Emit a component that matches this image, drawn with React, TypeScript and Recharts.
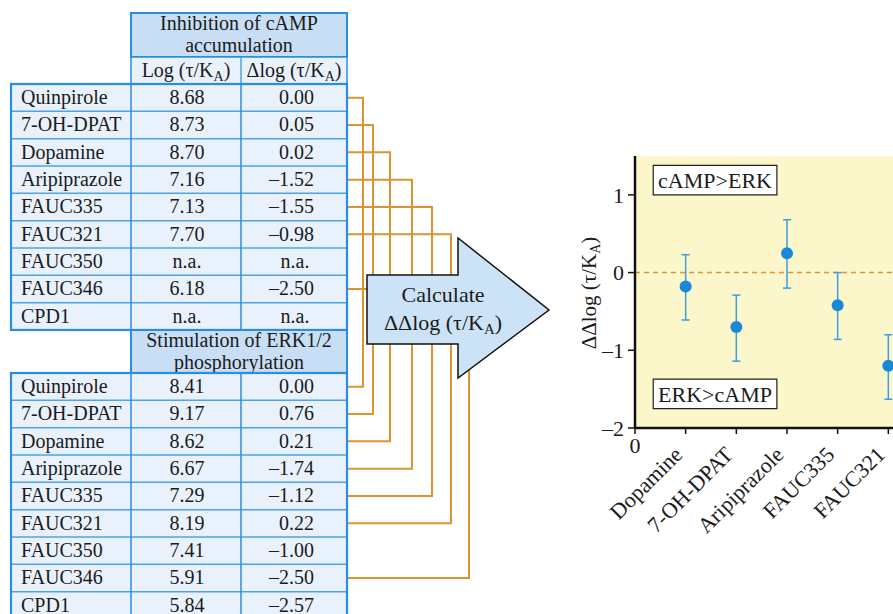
import React from "react";
import {
  ComposedChart,
  Scatter,
  ErrorBar,
  XAxis,
  YAxis,
  CartesianGrid,
  ReferenceLine,
  ReferenceArea,
} from "recharts";

const FONT = '"Liberation Serif", "DejaVu Serif", serif';

// table values, n.a. = null
const compounds = ["Quinpirole", "7-OH-DPAT", "Dopamine", "Aripiprazole", "FAUC335", "FAUC321", "FAUC350", "FAUC346", "CPD1"];
const campLog = [8.68, 8.73, 8.7, 7.16, 7.13, 7.7, null, 6.18, null];
const campDelta = [0.0, 0.05, 0.02, -1.52, -1.55, -0.98, null, -2.5, null];
const erkLog = [8.41, 9.17, 8.62, 6.67, 7.29, 8.19, 7.41, 5.91, 5.84];
const erkDelta = [0.0, 0.76, 0.21, -1.74, -1.12, 0.22, -1.0, -2.5, -2.57];

// bias plot (only the visible part of the panel)
const chartNames = ["Dopamine", "7-OH-DPAT", "Aripiprazole", "FAUC335", "FAUC321"];
const ddlog = [-0.18, -0.7, 0.25, -0.42, -1.2];
const errLow = [0.43, 0.44, 0.45, 0.44, 0.43];
const errHigh = [0.41, 0.41, 0.43, 0.42, 0.4];
const yTicks = [-2, -1, 0, 1];
const xTicks = [0, 1, 2, 3, 4, 5];

// layout
const X0 = 11, X1 = 131, X2 = 241, X3 = 347, RH = 27.33;
const BLUE = "#2a8ee0", LINE = "#4ea3ea", HDR = "#c8def5", CELL = "#e8f1fc";
const ORANGE = "#dc9331";
const LINK_X = [363, 373, 390, 412, 432, 451, 469];

const fmt = (v: number | null) => (v == null ? "n.a." : v.toFixed(2).replace("-", "–"));

function KA({ pre }: { pre: string }) {
  return (
    <>
      <tspan>{pre}(τ/K</tspan>
      <tspan fontSize={14} dy={4}>A</tspan>
      <tspan dy={-4}>)</tspan>
    </>
  );
}

function Table({ hTop, hBot, rowsTop, title, logs, deltas, sub }: any) {
  const rowsBot = rowsTop + compounds.length * RH;
  const cx = (X1 + X3) / 2;
  return (
    <g fontFamily={FONT} fontSize={20} fill="#1b1b1b">
      <rect x={X1} y={hTop} width={X3 - X1} height={hBot - hTop} fill={HDR} stroke={BLUE} strokeWidth={2} />
      {title.map((t: string, i: number) => (
        <text key={t} x={cx} y={hTop + 17 + 21.5 * i} textAnchor="middle">{t}</text>
      ))}
      {sub && (
        <>
          <rect x={X1} y={hBot} width={X3 - X1} height={rowsTop - hBot} fill={CELL} stroke={BLUE} strokeWidth={1.5} />
          <line x1={X2} y1={hBot} x2={X2} y2={rowsTop} stroke={LINE} strokeWidth={1.5} />
          <text x={186} y={hBot + 20} textAnchor="middle"><KA pre="Log " /></text>
          <text x={294} y={hBot + 20} textAnchor="middle"><KA pre="Δlog " /></text>
        </>
      )}
      <rect x={X0} y={rowsTop} width={X3 - X0} height={rowsBot - rowsTop} fill={CELL} />
      {compounds.slice(1).map((_, k) => (
        <line key={k} x1={X0} x2={X3} y1={rowsTop + (k + 1) * RH} y2={rowsTop + (k + 1) * RH} stroke={LINE} strokeWidth={1.5} />
      ))}
      <line x1={X1} x2={X1} y1={rowsTop} y2={rowsBot} stroke={BLUE} strokeWidth={1.5} />
      <line x1={X2} x2={X2} y1={rowsTop} y2={rowsBot} stroke={BLUE} strokeWidth={1.5} />
      <rect x={X0} y={rowsTop} width={X3 - X0} height={rowsBot - rowsTop} fill="none" stroke={BLUE} strokeWidth={2.2} />
      {compounds.map((c, i) => {
        const by = rowsTop + i * RH + 20;
        const d = deltas[i];
        return (
          <g key={c}>
            <text x={21} y={by}>{c}</text>
            <text x={187} y={by} textAnchor="middle">{fmt(logs[i])}</text>
            {d == null ? (
              <text x={295} y={by} textAnchor="middle">n.a.</text>
            ) : (
              <text x={314} y={by} textAnchor="end">{fmt(d)}</text>
            )}
          </g>
        );
      })}
    </g>
  );
}

function Connectors() {
  const linked = compounds.map((_, i) => i).filter((i) => campDelta[i] != null && erkDelta[i] != null);
  return (
    <g fill="none" stroke={ORANGE} strokeWidth={2}>
      {linked.map((i, k) => {
        const y1 = 84 + (i + 0.5) * RH;
        const y2 = 373 + (i + 0.5) * RH;
        return <path key={i} d={`M${X3} ${y1} H${LINK_X[k]} V${y2} H${X3}`} />;
      })}
    </g>
  );
}

function Arrow() {
  return (
    <g fontFamily={FONT} fontSize={22} fill="#1b1b1b">
      <polygon
        points="367,275 458,275 458,238 549,310 458,378 458,344 367,344"
        fill="#cce2f6"
        stroke="#111"
        strokeWidth={1.5}
      />
      <text x={443} y={302} textAnchor="middle">Calculate</text>
      <text x={443} y={330} textAnchor="middle">
        <tspan>ΔΔlog (τ/K</tspan>
        <tspan fontSize={15} dy={4}>A</tspan>
        <tspan dy={-4}>)</tspan>
      </text>
    </g>
  );
}

function XTick({ x, y, payload }: any) {
  const v = payload.value;
  if (v === 0) {
    return (
      <text x={x} y={y + 17} textAnchor="middle" fontFamily={FONT} fontSize={22} fill="#1b1b1b">0</text>
    );
  }
  return (
    <g transform={`translate(${x - 2},${y + 20}) rotate(-45)`}>
      <text x={0} y={0} textAnchor="end" fontFamily={FONT} fontSize={22} fill="#1b1b1b">
        {chartNames[v - 1]}
      </text>
    </g>
  );
}

const points = chartNames.map((n, i) => ({ x: i + 1, y: ddlog[i], err: [errLow[i], errHigh[i]], name: n }));

function BiasChart() {
  return (
    <ComposedChart width={560} height={474} margin={{ top: 16, right: 9, bottom: 0, left: 0 }}>
      <CartesianGrid horizontal={false} vertical={false} fill="#fcf6cb" />
      <XAxis
        type="number"
        dataKey="x"
        domain={[0, 9]}
        ticks={xTicks}
        height={186}
        axisLine={{ stroke: "#111", strokeWidth: 2.5 }}
        tickLine={{ stroke: "#111", strokeWidth: 1.5 }}
        tickSize={6}
        tick={<XTick />}
        interval={0}
      />
      <YAxis
        type="number"
        domain={[-2, 1.5]}
        ticks={yTicks}
        width={95}
        allowDataOverflow
        axisLine={{ stroke: "#111", strokeWidth: 2.5 }}
        tickLine={{ stroke: "#111", strokeWidth: 1.5 }}
        tickSize={7}
        tickMargin={4}
        tickFormatter={(v: number) => (v < 0 ? `–${Math.abs(v)}` : `${v}`)}
        tick={{ fontFamily: FONT, fontSize: 22, fill: "#1b1b1b" }}
        label={{
          content: () => (
            <text
              x={56}
              y={153}
              transform="rotate(-90, 56, 153)"
              textAnchor="middle"
              fontFamily={FONT}
              fontSize={21}
              fill="#1b1b1b"
            >
              <tspan>ΔΔlog (τ/K</tspan>
              <tspan fontSize={14} dy={4}>A</tspan>
              <tspan dy={-4}>)</tspan>
            </text>
          ),
        }}
      />
      <ReferenceArea
        x1={0.36}
        x2={2.8}
        y1={1.0}
        y2={1.38}
        fill="#fff"
        fillOpacity={1}
        stroke="#222"
        strokeWidth={1.2}
        ifOverflow="visible"
        label={{ value: "cAMP>ERK", position: "center", fontFamily: FONT, fontSize: 22, fill: "#1b1b1b" }}
      />
      <ReferenceArea
        x1={0.36}
        x2={2.8}
        y1={-1.75}
        y2={-1.37}
        fill="#fff"
        fillOpacity={1}
        stroke="#222"
        strokeWidth={1.2}
        ifOverflow="visible"
        label={{ value: "ERK>cAMP", position: "center", fontFamily: FONT, fontSize: 22, fill: "#1b1b1b" }}
      />
      <ReferenceLine y={0} stroke="#e8902a" strokeWidth={1.5} strokeDasharray="5 4" />
      <Scatter
        data={points}
        dataKey="y"
        isAnimationActive={false}
        shape={(p: any) => <circle cx={p.cx} cy={p.cy} r={6} fill="#1789d6" />}
      >
        <ErrorBar dataKey="err" direction="y" width={4} stroke="#3d9de0" strokeWidth={1.5} isAnimationActive={false} />
      </Scatter>
    </ComposedChart>
  );
}

export default function App() {
  return (
    <div
      style={{
        position: "absolute",
        left: 0,
        top: 0,
        width: 893,
        height: 614,
        overflow: "hidden",
        background: "#fff",
        fontFamily: FONT,
      }}
    >
      <svg width={893} height={614} style={{ position: "absolute", left: 0, top: 0 }}>
        <Connectors />
        <Table
          hTop={13}
          hBot={57}
          rowsTop={84}
          sub
          title={["Inhibition of cAMP", "accumulation"]}
          logs={campLog}
          deltas={campDelta}
        />
        <Table
          hTop={330}
          hBot={373}
          rowsTop={373}
          title={["Stimulation of ERK1/2", "phosphorylation"]}
          logs={erkLog}
          deltas={erkDelta}
        />
        <Arrow />
      </svg>
      <div style={{ position: "absolute", left: 540, top: 140 }}>
        <BiasChart />
      </div>
    </div>
  );
}
